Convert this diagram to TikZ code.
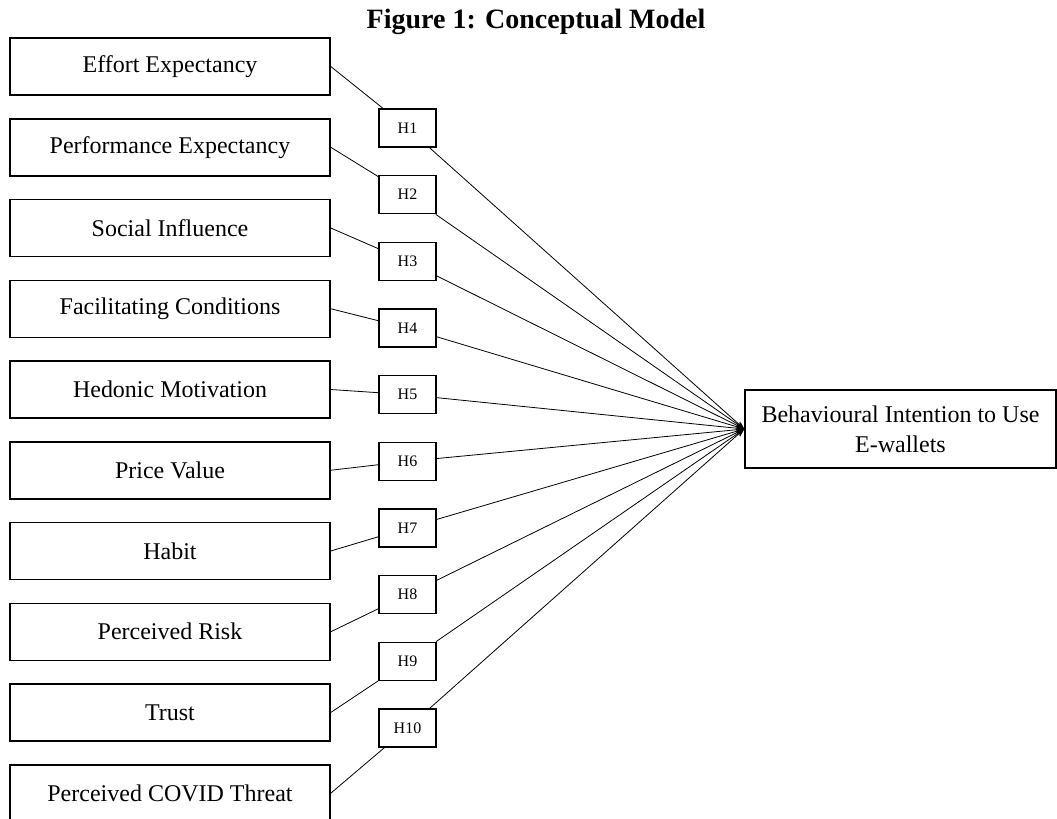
\documentclass[tikz,border=0pt]{standalone}
\usepackage{fontspec}
\setmainfont{Liberation Serif}
\usetikzlibrary{arrows.meta}
\begin{document}
\begin{tikzpicture}[x=0.5pt,y=-0.5pt,
  factor/.style={draw, line width=0.75pt, minimum width=160pt, minimum height=28.5pt, inner sep=0pt, font=\fontsize{12}{15}\selectfont},
  hyp/.style={draw, line width=0.75pt, minimum width=28.5pt, minimum height=19pt, inner sep=0pt, font=\fontsize{8}{10}\selectfont},
  target/.style={draw, line width=0.75pt, minimum width=155.5pt, minimum height=39pt, inner sep=0pt, align=center, font=\fontsize{12}{15}\selectfont},
  link/.style={line width=0.4pt},
  arr/.style={line width=0.4pt, -{Stealth[length=4pt,width=3pt]}}]
\clip (0,0) rectangle (1057,819);
\fill[white] (0,0) rectangle (1057,819);
\node[anchor=base, font=\fontsize{14}{16}\selectfont\bfseries] (title) at (536,28) {Figure 1: Conceptual Model};
\node[target] (t) at (900.5,429) {Behavioural Intention to Use\\E-wallets};
\foreach \i/\lab in {1/Effort Expectancy, 2/Performance Expectancy, 3/Social Influence, 4/Facilitating Conditions, 5/Hedonic Motivation, 6/Price Value, 7/Habit, 8/Perceived Risk, 9/Trust, 10/Perceived COVID Threat}{
  \node[factor] (b\i) at (170,{66.5+80.75*(\i-1)}) {\lab};
  \node[hyp] (h\i) at (407.5,{128+66.67*(\i-1)}) {H\i};
  \draw[link] (b\i.east) -- (h\i);
  \draw[arr] (h\i) -- (t.west);
}
\end{tikzpicture}
\end{document}
